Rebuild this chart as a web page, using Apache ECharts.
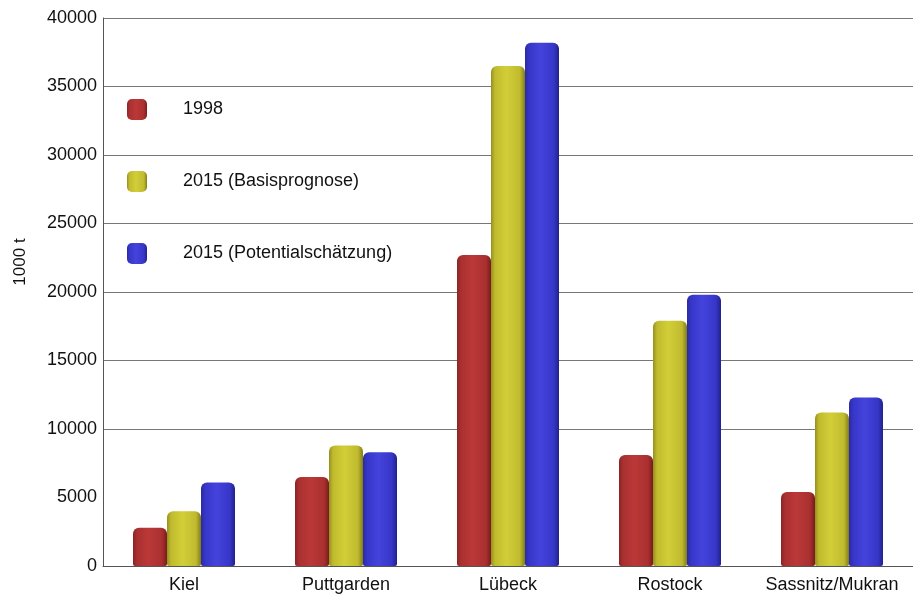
<!DOCTYPE html>
<html>
<head>
<meta charset="utf-8">
<script src="https://cdn.jsdelivr.net/npm/echarts@6/dist/echarts.min.js"></script>
<style>
  html, body { margin: 0; padding: 0; background: #ffffff; }
  #chart { width: 913px; height: 599px; }
</style>
</head>
<body>
<div id="chart"></div>
<script>
// Umschlagmengen in den Ostseehäfen (1000 t)
const categories = ['Kiel', 'Puttgarden', 'Lübeck', 'Rostock', 'Sassnitz/Mukran'];
const seriesNames = ['1998', '2015 (Basisprognose)', '2015 (Potentialschätzung)'];
const values1998 = [2800, 6500, 22700, 8100, 5400];
const valuesBasis = [4000, 8800, 36500, 17900, 11200];
const valuesPotential = [6100, 8300, 38200, 19800, 12300];
const yTicks = { min: 0, max: 40000, interval: 5000 };

// shaded fills give the bars a rounded, solid look
function shade(dark, light, mid, edge) {
  return new echarts.graphic.LinearGradient(0, 0, 1, 0, [
    { offset: 0, color: dark },
    { offset: 0.12, color: mid },
    { offset: 0.45, color: light },
    { offset: 0.85, color: mid },
    { offset: 1, color: edge }
  ]);
}
const fills = [
  shade('#8a2424', '#bb3838', '#aa3030', '#781c1c'),
  shade('#96901e', '#d2ce38', '#c0bb2e', '#827c18'),
  shade('#2a2aa0', '#4444dd', '#3636c8', '#22228a')
];
const dataSets = [values1998, valuesBasis, valuesPotential];

const chart = echarts.init(document.getElementById('chart'));
chart.setOption({
  animation: false,
  backgroundColor: '#ffffff',
  textStyle: { fontFamily: 'Liberation Sans, Arial, sans-serif' },
  grid: { left: 103, top: 18, width: 828, bottom: 33, containLabel: false },
  legend: {
    orient: 'vertical',
    left: 122,
    top: 94,
    itemWidth: 20,
    itemHeight: 21,
    itemGap: 51,
    icon: 'roundRect',
    textStyle: { fontSize: 18, lineHeight: 21, color: '#111', padding: [0, 0, 0, 31] },
    data: seriesNames
  },
  xAxis: {
    type: 'category',
    data: categories,
    axisLine: { lineStyle: { color: '#555', width: 1 } },
    axisTick: { show: false },
    axisLabel: { fontSize: 18, color: '#111', margin: 10, interval: 0 }
  },
  yAxis: {
    type: 'value',
    min: yTicks.min,
    max: yTicks.max,
    interval: yTicks.interval,
    name: '1000 t',
    nameLocation: 'middle',
    nameGap: 74,
    nameRotate: 90,
    nameTextStyle: { fontSize: 17, color: '#111', padding: [0, 0, 0, 60] },
    axisLine: { show: true, lineStyle: { color: '#555', width: 1 } },
    axisTick: { show: false },
    axisLabel: { fontSize: 18, color: '#111', margin: 6, formatter: (v) => String(v) },
    splitLine: {
      show: true,
      lineStyle: {
        width: 1,
        color: ['#777', 'rgba(0,0,0,0)', '#777', '#777', '#777', '#777', '#777', '#777', '#777']
      }
    }
  },
  series: seriesNames.map((name, i) => ({
    name: name,
    type: 'bar',
    data: dataSets[i],
    barWidth: 34,
    barGap: '0%',
    itemStyle: { color: fills[i], borderRadius: [6, 6, 2, 2] }
  }))
});
</script>
</body>
</html>
